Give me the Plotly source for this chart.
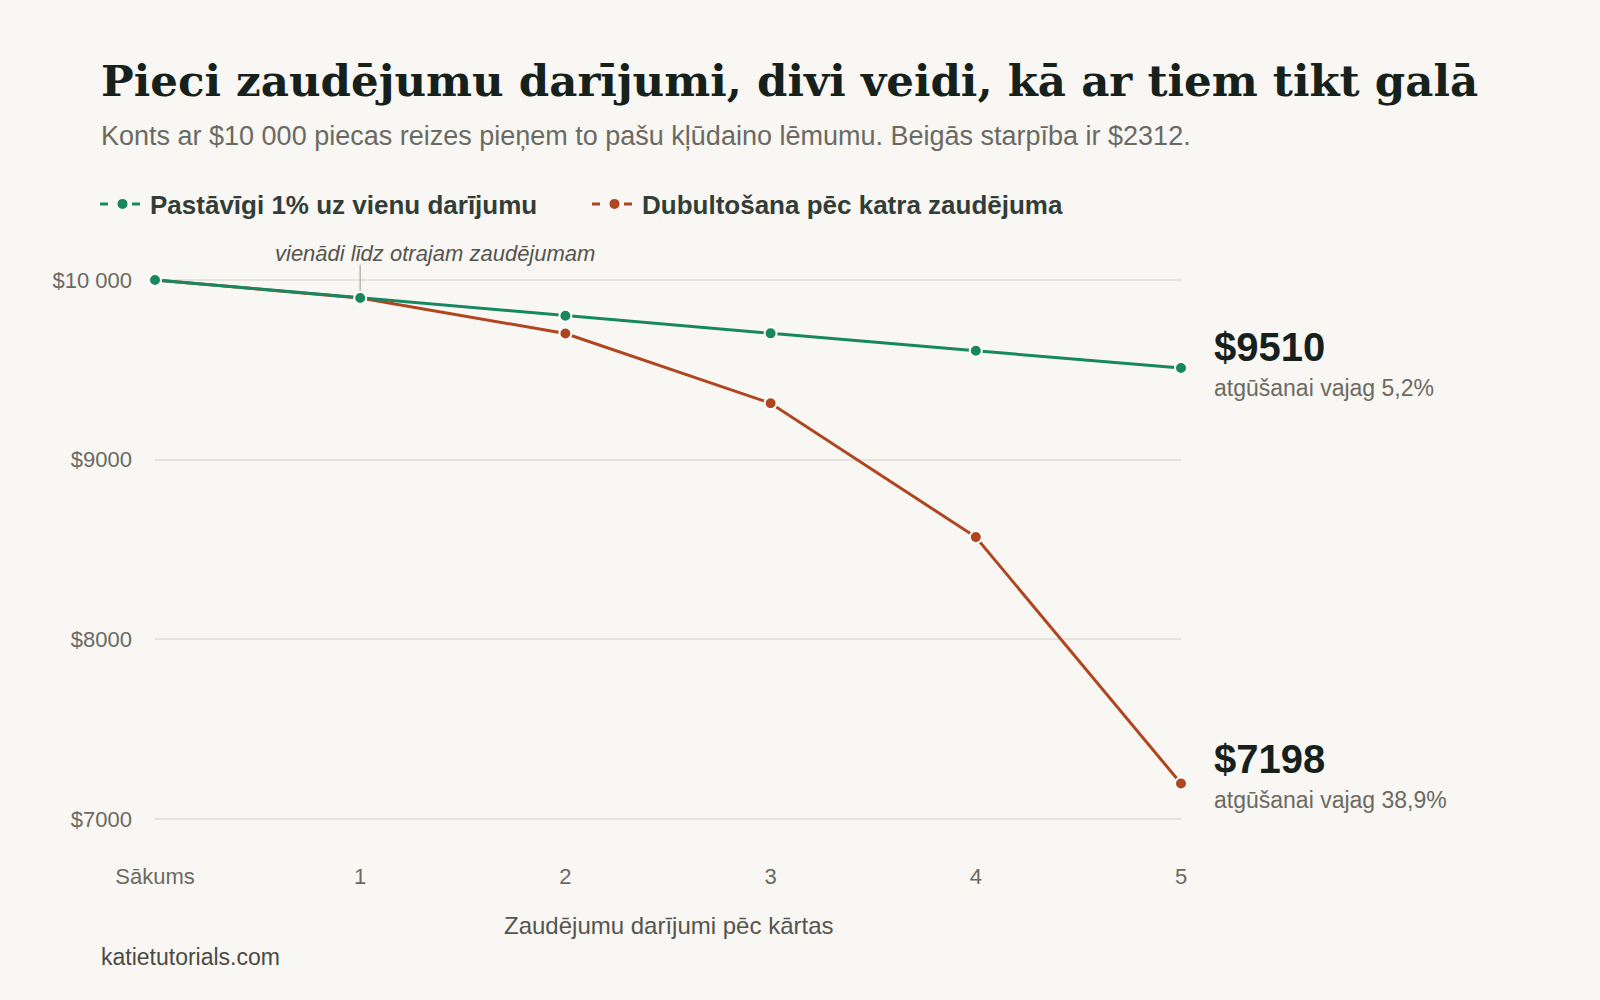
import plotly.graph_objects as go

# data
steps = [0, 1, 2, 3, 4, 5]
step_labels = ["Sākums", "1", "2", "3", "4", "5"]
constant_1pct = [10000, 9900, 9801, 9703, 9606, 9510]
doubling = [10000, 9900, 9702, 9314, 8569, 7198]
y_ticks = [7000, 8000, 9000, 10000]
y_tick_labels = ["$7000", "$8000", "$9000", "$10 000"]

GREEN = "#17875f"
ORANGE = "#b0461f"
BG = "#f8f7f3"
GREY = "#6b6a62"
DARK = "#17211c"

# plot box in pixels
L, R, T, B = 155, 1181, 262, 846


def px_x(x):
    return (x - L) / (R - L)


def px_y(y):
    return (B - y) / (B - T)


fig = go.Figure()

fig.add_trace(go.Scatter(
    x=steps, y=doubling, mode="lines+markers", showlegend=False,
    line=dict(color=ORANGE, width=3),
    marker=dict(size=12, color=ORANGE, line=dict(color="white", width=2)),
    cliponaxis=False,
))
fig.add_trace(go.Scatter(
    x=steps, y=constant_1pct, mode="lines+markers", showlegend=False,
    line=dict(color=GREEN, width=3),
    marker=dict(size=12, color=GREEN, line=dict(color="white", width=2)),
    cliponaxis=False,
))

# legend-only entries (dash - dot - dash symbol)
for name, col in [("Pastāvīgi 1% uz vienu darījumu", GREEN),
                  ("Dubultošana pēc katra zaudējuma", ORANGE)]:
    fig.add_trace(go.Scatter(
        x=[None], y=[None], mode="lines+markers", name=name,
        line=dict(color=col, width=3, dash="8px,24px"),
        marker=dict(size=12, color=col, line=dict(color=BG, width=2)),
    ))

# callout line at the second point
fig.add_shape(type="line", x0=1, x1=1, y0=9940, y1=10085,
              line=dict(color="#b8b6ae", width=1.5))

annotations = [
    dict(x=px_x(99), y=px_y(80), xanchor="left", yanchor="middle",
         text="<b>Pieci zaudējumu darījumi, divi veidi, kā ar tiem tikt galā</b>",
         font=dict(family="DejaVu Serif", size=43.5, color=DARK)),
    dict(x=px_x(99), y=px_y(136), xanchor="left", yanchor="middle",
         text="Konts ar $10 000 piecas reizes pieņem to pašu kļūdaino lēmumu. Beigās starpība ir $2312.",
         font=dict(family="Liberation Sans", size=27, color=GREY)),
    dict(x=px_x(435), y=px_y(254), xanchor="center", yanchor="middle",
         text="<i>vienādi līdz otrajam zaudējumam</i>",
         font=dict(family="Liberation Sans", size=22, color="#55544d")),
    dict(x=0.5, y=px_y(925), xanchor="center", yanchor="middle",
         text="Zaudējumu darījumi pēc kārtas",
         font=dict(family="Liberation Sans", size=24, color="#55544d")),
    dict(x=px_x(99), y=px_y(957), xanchor="left", yanchor="middle",
         text="katietutorials.com",
         font=dict(family="Liberation Sans", size=23, color="#4a4a44")),
]
for a in annotations:
    a.update(xref="paper", yref="paper", showarrow=False)

# end labels next to the last points
end_labels = [
    (constant_1pct[-1], "<b>$9510</b>", "atgūšanai vajag 5,2%", 21, -20),
    (doubling[-1], "<b>$7198</b>", "atgūšanai vajag 38,9%", 24, -17),
]
for yv, big, small, s1, s2 in end_labels:
    annotations.append(dict(x=5, y=yv, xanchor="left", yanchor="middle", xshift=31, yshift=s1,
                            text=big, showarrow=False,
                            font=dict(family="Liberation Sans", size=40, color=DARK)))
    annotations.append(dict(x=5, y=yv, xanchor="left", yanchor="middle", xshift=31, yshift=s2,
                            text=small, showarrow=False,
                            font=dict(family="Liberation Sans", size=23, color=GREY)))

fig.update_layout(
    width=1600, height=1000,
    margin=dict(l=L, r=1600 - R, t=T, b=1000 - B),
    paper_bgcolor=BG, plot_bgcolor=BG,
    font=dict(family="Liberation Sans", color=GREY),
    showlegend=True,
    legend=dict(orientation="h", xref="container", yref="container",
                x=95 / 1600, y=1 - 204 / 1000, xanchor="left", yanchor="middle",
                font=dict(family="Liberation Sans", size=26, color="#333d38", weight="bold"),
                itemwidth=45, entrywidth=432, bgcolor="rgba(0,0,0,0)"),
    annotations=annotations,
    xaxis=dict(range=[0, 5], tickvals=steps, ticktext=step_labels,
               showgrid=False, zeroline=False, showline=False,
               tickfont=dict(size=22, color=GREY), ticklabelstandoff=15),
    yaxis=dict(range=[6850, 10100], tickvals=y_ticks, ticktext=y_tick_labels,
               showgrid=True, gridcolor="#e5e3dd", gridwidth=1.5,
               zeroline=False, showline=False,
               tickfont=dict(size=22, color=GREY), ticklabelstandoff=22),
)

fig.write_html("out.html", config={"displayModeBar": False},
               post_script="document.body.style.margin='0';")
